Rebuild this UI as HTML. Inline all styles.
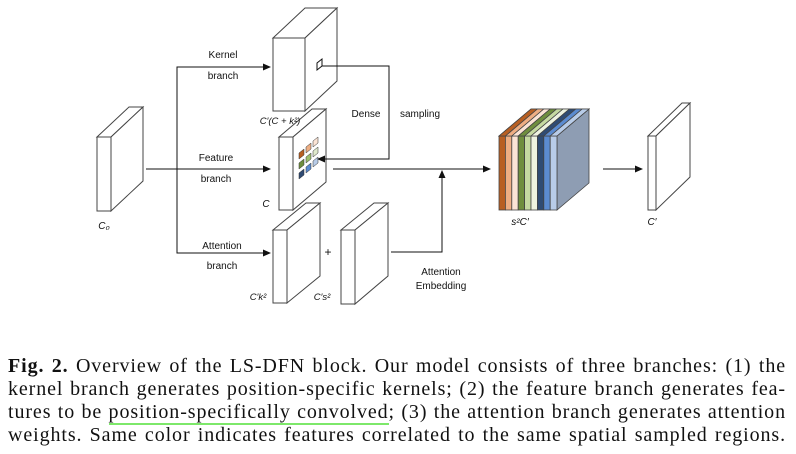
<!DOCTYPE html>
<html><head><meta charset="utf-8"><style>
body{margin:0;width:796px;height:454px;background:#fff;position:relative;overflow:hidden}
svg{position:absolute;left:0;top:0}
.cap{position:absolute;left:8px;width:778px;font-family:"Liberation Serif",serif;font-size:20px;letter-spacing:0.9px;color:#111;text-align:justify;text-align-last:justify;white-space:nowrap;height:23px;line-height:23px}
.u{border-bottom:2.5px solid #7de86a}
</style></head><body>
<svg width="796" height="454" viewBox="0 0 796 454" font-family="Liberation Sans, sans-serif" font-size="10" fill="#111">
<defs><marker id="a" markerWidth="8" markerHeight="8" refX="7" refY="4" orient="auto" markerUnits="userSpaceOnUse"><path d="M0,0.5 L8,4 L0,7.5z" fill="#111"/></marker></defs>
<g stroke="#444" stroke-width="1" fill="#fff">
<path d="M97,137 L129,107 L143,107 L111,137z"/><path d="M111,137 L143,107 L143,181 L111,211z"/><rect x="97" y="137" width="14" height="74"/>
<path d="M273,38 L305,8 L337,8 L305,38z"/><path d="M305,38 L337,8 L337,81 L305,111z"/><rect x="273" y="38" width="32" height="73"/>
<path d="M279,137 L312,109 L326,109 L293,137z"/><path d="M293,137 L326,109 L326,182 L293,210z"/><rect x="279" y="137" width="14" height="73"/>
<path d="M273,230 L306,203 L320,203 L287,230z"/><path d="M287,230 L320,203 L320,276 L287,303z"/><rect x="273" y="230" width="14" height="73"/>
<path d="M341,230 L374,203 L388,203 L355,230z"/><path d="M355,230 L388,203 L388,276 L355,304z"/><rect x="341" y="230" width="14" height="74"/>
<path d="M648,136 L682,103 L690,103 L656,136z"/><path d="M656,136 L690,103 L690,177 L656,210z"/><rect x="648" y="136" width="8" height="74"/>
<path d="M317,70 L317,63 L322,59 L322,66z" stroke="#111"/>
</g>
<g stroke="#333" stroke-width="0.5">
<path d="M299,153 l5,-4 v6 l-5,4z" fill="#b85f22"/><path d="M306,147 l5,-4 v6 l-5,4z" fill="#eeae83"/><path d="M313,141 l5,-4 v6 l-5,4z" fill="#fbe4d5"/>
<path d="M299,163 l5,-4 v6 l-5,4z" fill="#6f8e3e"/><path d="M306,157 l5,-4 v6 l-5,4z" fill="#9dbf6c"/><path d="M313,151 l5,-4 v6 l-5,4z" fill="#dfe9cc"/>
<path d="M299,173 l5,-4 v6 l-5,4z" fill="#2f4b73"/><path d="M306,167 l5,-4 v6 l-5,4z" fill="#5b8bd0"/><path d="M313,161 l5,-4 v6 l-5,4z" fill="#b8cce8"/>
</g>
<g stroke="#444" stroke-width="0.8">
<path d="M557,136 L589,109 L589,183 L557,210z" fill="#8e9db3"/>
<path d="M499,136 L531,109 L589,109 L557,136z" fill="#b8cce8"/>
<rect x="499" y="136" width="6.4" height="74" fill="#b85f22"/>
<rect x="505.4" y="136" width="6.4" height="74" fill="#eeae83"/>
<rect x="511.8" y="136" width="6.4" height="74" fill="#fbe4d5"/>
<rect x="518.2" y="136" width="6.4" height="74" fill="#6f8e3e"/>
<rect x="524.6" y="136" width="6.4" height="74" fill="#c5d9a1"/>
<rect x="531" y="136" width="6.4" height="74" fill="#eef3e0"/>
<rect x="537.4" y="136" width="6.4" height="74" fill="#2f4b73"/>
<rect x="543.8" y="136" width="6.4" height="74" fill="#5b8bd0"/>
<rect x="550.2" y="136" width="6.8" height="74" fill="#b8cce8"/>
<path d="M499,136 L531,109 L537.4,109 L505.4,136z" fill="#b85f22"/>
<path d="M505.4,136 L537.4,109 L543.8,109 L511.8,136z" fill="#eeae83"/>
<path d="M511.8,136 L543.8,109 L550.2,109 L518.2,136z" fill="#fbe4d5"/>
<path d="M518.2,136 L550.2,109 L556.6,109 L524.6,136z" fill="#6f8e3e"/>
<path d="M524.6,136 L556.6,109 L563,109 L531,136z" fill="#c5d9a1"/>
<path d="M531,136 L563,109 L569.4,109 L537.4,136z" fill="#eef3e0"/>
<path d="M537.4,136 L569.4,109 L575.8,109 L543.8,136z" fill="#2f4b73"/>
<path d="M543.8,136 L575.8,109 L582.2,109 L550.2,136z" fill="#5b8bd0"/>
<path d="M550.2,136 L582.2,109 L589,109 L557,136z" fill="#b8cce8"/>
</g>
<g stroke="#111" stroke-width="1" fill="none">
<line x1="146" y1="169" x2="270" y2="169" marker-end="url(#a)"/>
<polyline points="270,67 177,67 177,253 270,253" />
<line x1="177" y1="67" x2="270" y2="67" marker-end="url(#a)"/>
<line x1="177" y1="253" x2="270" y2="253" marker-end="url(#a)"/>
<polyline points="322,66 389,66 389,159 318,159" marker-end="url(#a)"/>
<line x1="333" y1="169" x2="490" y2="169" marker-end="url(#a)"/>
<polyline points="391,252 442,252 442,171" marker-end="url(#a)"/>
<line x1="603" y1="169" x2="642" y2="169" marker-end="url(#a)"/>
</g>
<g text-anchor="middle">
<text x="223" y="58">Kernel</text><text x="223" y="79">branch</text>
<text x="216" y="161">Feature</text><text x="216" y="182">branch</text>
<text x="222" y="249">Attention</text><text x="222" y="269">branch</text>
<text x="366" y="117">Dense</text><text x="420" y="117">sampling</text>
<text x="441" y="275">Attention</text><text x="441" y="289">Embedding</text>
<text x="280" y="124" font-style="italic" font-size="9.5">C′(C + k²)</text>
<text x="266" y="207" font-style="italic">C</text>
<text x="104" y="229" font-style="italic">C₀</text>
<text x="258" y="300" font-style="italic" font-size="9.5">C′k²</text>
<text x="322" y="300" font-style="italic" font-size="9.5">C′s²</text>
<text x="520" y="225" font-style="italic">s²C′</text>
<text x="652" y="225" font-style="italic">C′</text>
</g>
<text x="328" y="256" font-size="12" text-anchor="middle">+</text>
</svg>
<div class="cap" style="top:355px"><b>Fig. 2.</b> Overview of the LS-DFN block. Our model consists of three branches: (1) the</div>
<div class="cap" style="top:378px">kernel branch generates position-specific kernels; (2) the feature branch generates fea-</div>
<div class="cap" style="top:401px">tures to be <span class="u">position-specifically convolved</span>; (3) the attention branch generates attention</div>
<div class="cap" style="top:424px">weights. Same color indicates features correlated to the same spatial sampled regions.</div>
</body></html>
